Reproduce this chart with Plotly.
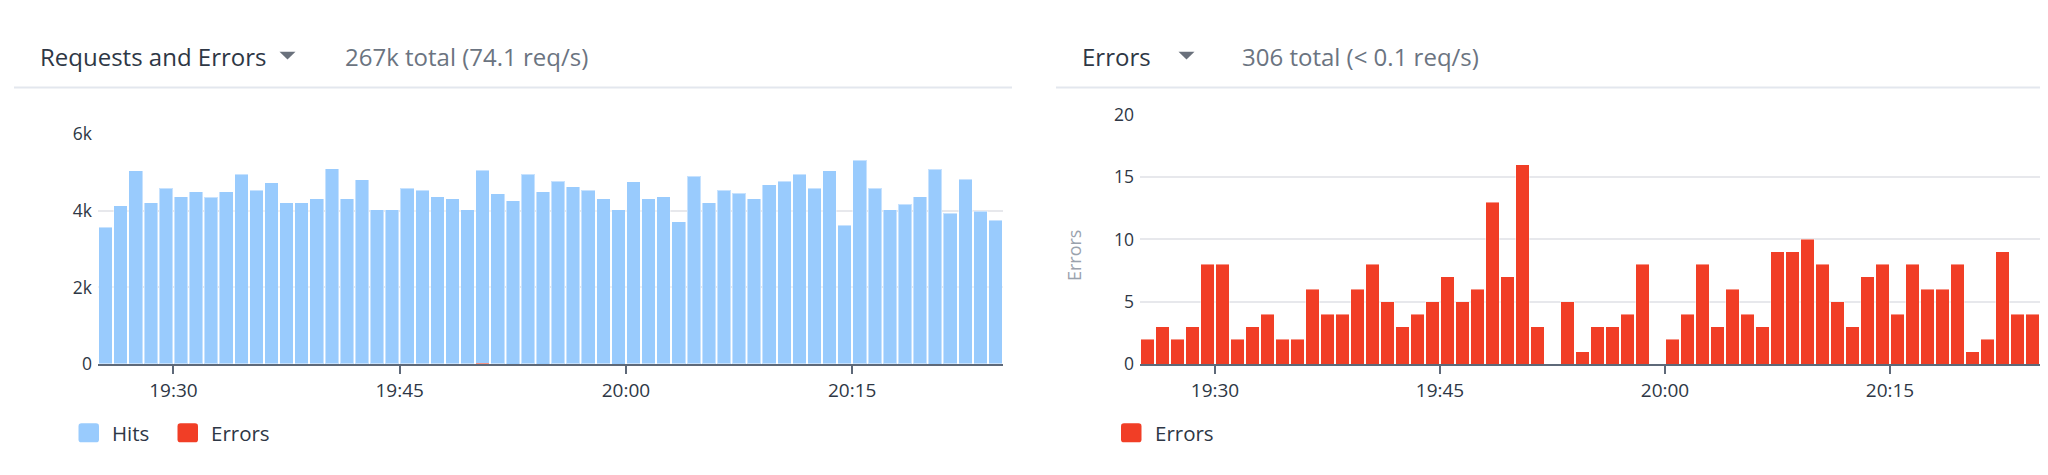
import pandas as pd
import plotly.graph_objects as go

# ------------------ data (one bar per minute, 19:25 -> 20:24) ------------------
minutes = pd.date_range("2023-01-01 19:25", periods=60, freq="min")

hits = [3570, 4124, 5041, 4207, 4578, 4355, 4488, 4355, 4488, 4950,
        4529, 4719, 4207, 4207, 4306, 5083, 4306, 4810, 4025, 4025,
        4578, 4529, 4355, 4306, 4025, 5041, 4438, 4256, 4950, 4488,
        4760, 4628, 4529, 4306, 4025, 4760, 4306, 4355, 3711, 4900,
        4207, 4529, 4446, 4306, 4669, 4760, 4950, 4578, 5041, 3612,
        5314, 4578, 4025, 4165, 4355, 5083, 3934, 4810, 3983, 3752]

errors = [2, 3, 2, 3, 8, 8, 2, 3, 4, 2,
          2, 6, 4, 4, 6, 8, 5, 3, 4, 5,
          7, 5, 6, 13, 7, 16, 3, 0, 5, 1,
          3, 3, 4, 8, 0, 2, 4, 8, 3, 6,
          4, 3, 9, 9, 10, 8, 5, 3, 7, 8,
          4, 8, 6, 6, 8, 1, 2, 9, 4, 4]

x_tick_vals = ["2023-01-01 19:30", "2023-01-01 19:45", "2023-01-01 20:00", "2023-01-01 20:15"]
x_tick_text = ["19:30", "19:45", "20:00", "20:15"]
hits_tick_vals = [0, 2000, 4000, 6000]
hits_tick_text = ["0", "2k", "4k", "6k"]
err_tick_vals = [0, 5, 10, 15, 20]

HITS_BLUE = "#99CBFD"
ERR_RED = "#F13E26"
DARK = "#2E3745"
GREY = "#6B7481"
AXIS = "#5E6979"
GRID = "#E7E8EC"

# the page body keeps its default 8px margin, so the figure is made smaller
# and every position below is given in screen pixels, shifted by that margin
OFF = 8
W, H = 2048 - 2 * OFF, 475 - 2 * OFF
def px(x):
    return min(max((x - OFF) / W, 0), 1)
def py(y):
    return min(max(1 - (y - OFF) / H, 0), 1)

# ------------------ traces ------------------
fig = go.Figure()
bar_style = dict(xperiod=60000, xperiodalignment="middle",
                 marker_line=dict(color="rgba(255,255,255,0.45)", width=1))

# errors sit at the base of the stack on the left panel (too small to see)
fig.add_trace(go.Bar(x=minutes, y=errors, name="Errors", marker_color=ERR_RED,
                     xaxis="x", yaxis="y", xperiod=60000, xperiodalignment="middle",
                     marker_line_width=0))
fig.add_trace(go.Bar(x=minutes, y=hits, name="Hits", marker_color=HITS_BLUE,
                     xaxis="x", yaxis="y", **bar_style))
fig.add_trace(go.Bar(x=minutes, y=errors, name="Errors", marker_color=ERR_RED,
                     xaxis="x2", yaxis="y2", **bar_style))

x_common = dict(type="date", range=["2023-01-01 19:25", "2023-01-01 20:25"],
                tickvals=x_tick_vals, ticktext=x_tick_text,
                showgrid=False, zeroline=False, showline=True, linecolor=AXIS, linewidth=2,
                ticks="outside", ticklen=8, tickwidth=2, tickcolor=AXIS,
                tickfont=dict(size=19, color=DARK), fixedrange=True)
y_common = dict(showgrid=True, gridcolor=GRID, gridwidth=1.5, zeroline=False,
                showline=False, ticks="", ticklabelstandoff=5,
                tickfont=dict(size=17.5, color=DARK), fixedrange=True)

fig.update_layout(
    width=W, height=H,
    margin=dict(l=0, r=0, t=0, b=0),
    paper_bgcolor="white", plot_bgcolor="white",
    font=dict(family="Open Sans", color=DARK),
    barmode="stack", bargap=0.1,
    showlegend=False,
    xaxis=dict(domain=[px(98), px(1003)], anchor="y", **x_common),
    yaxis=dict(domain=[py(370), py(127.3)], anchor="x", range=[0, 6000],
               tickvals=hits_tick_vals, ticktext=hits_tick_text, **y_common),
    xaxis2=dict(domain=[px(1140), px(2045)], anchor="y2", **x_common),
    yaxis2=dict(domain=[py(370), py(107)], anchor="x2", range=[0, 20],
                tickvals=err_tick_vals, **y_common),
)

# ------------------ header texts, separators, dropdown arrows ------------------
ann = []
shapes = []

def header(x_title, title, x_arrow, x_sub, sub, x0_line, x1_line):
    ann.append(dict(x=px(x_title), y=py(45), xref="paper", yref="paper", text=title,
                    showarrow=False, xanchor="left", yanchor="middle",
                    font=dict(size=24, color=DARK)))
    ann.append(dict(x=px(x_sub), y=py(45), xref="paper", yref="paper", text=sub,
                    showarrow=False, xanchor="left", yanchor="middle",
                    font=dict(size=24, color=GREY)))
    shapes.append(dict(type="path", xref="paper", yref="paper",
                       path=f"M{px(x_arrow - 8)},{py(40.5)} L{px(x_arrow + 8)},{py(40.5)} "
                            f"L{px(x_arrow)},{py(48.5)} Z",
                       fillcolor="#6A717C", line=dict(width=0)))
    shapes.append(dict(type="line", xref="paper", yref="paper",
                       x0=px(x0_line), x1=px(x1_line), y0=py(78.3), y1=py(78.3),
                       line=dict(color="#E3E7EE", width=2)))

header(38, "Requests and Errors", 287.5, 342.5, "267k total (74.1 req/s)", 14, 1012)
header(1080, "Errors", 1186.5, 1239.5, "306 total (< 0.1 req/s)", 1056, 2048)

# y title of the right panel
ann.append(dict(x=px(1074), y=py(256), xref="paper", yref="paper", text="Errors",
                textangle=-90, showarrow=False, xanchor="center", yanchor="middle",
                font=dict(size=18, color="#9AA2AD")))

# ------------------ legends (rounded swatches) ------------------
def rounded_rect(x0, y0, x1, y1, r=3):
    rx, ry = r / W, r / H
    X0, X1, Y0, Y1 = px(x0), px(x1), py(y1), py(y0)
    return (f"M{X0 + rx},{Y0} L{X1 - rx},{Y0} Q{X1},{Y0} {X1},{Y0 + ry} "
            f"L{X1},{Y1 - ry} Q{X1},{Y1} {X1 - rx},{Y1} L{X0 + rx},{Y1} "
            f"Q{X0},{Y1} {X0},{Y1 - ry} L{X0},{Y0 + ry} Q{X0},{Y0} {X0 + rx},{Y0} Z")

legend_items = [(78.5, fig.data[1]), (177.5, fig.data[0]), (1121, fig.data[2])]
for x_sw, tr in legend_items:
    shapes.append(dict(type="path", xref="paper", yref="paper",
                       path=rounded_rect(x_sw, 432.5, x_sw + 20.5, 452.5),
                       fillcolor=tr.marker.color, line=dict(width=0)))
    ann.append(dict(x=px(x_sw + 31.5), y=py(443), xref="paper", yref="paper", text=tr.name,
                    showarrow=False, xanchor="left", yanchor="middle",
                    font=dict(size=20.5, color=DARK)))

fig.update_layout(annotations=ann, shapes=shapes)

fig.write_html("out.html")
